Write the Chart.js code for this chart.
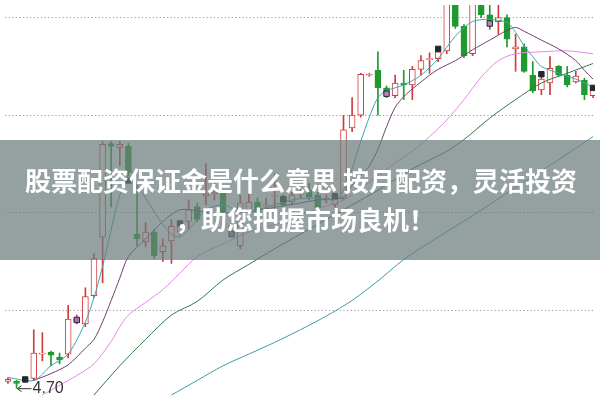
<!DOCTYPE html>
<html><head><meta charset="utf-8">
<script src="https://cdn.jsdelivr.net/npm/chart.js@4.4.1/dist/chart.umd.min.js"></script>
<style>html,body{margin:0;padding:0;background:#fff;overflow:hidden}canvas{display:block}</style>
</head><body>
<canvas id="c" width="600" height="401"></canvas>
<script>
// ---- data (prices) ----
const openP  = [4.77,4.77,4.77,4.80,5.05,5.07,5.02,5.05,5.38,5.36,5.65,6.25,7.21,7.17,7.18,6.28,6.20,6.30,6.10,6.21,6.30,6.41,6.56,6.67,6.69,6.70,6.31,6.16,6.53,6.61,6.57,6.67,6.65,6.61,6.69,6.73,6.68,6.63,6.58,6.65,7.37,7.50,7.91,7.96,7.78,7.70,7.83,7.81,7.97,8.07,8.08,8.16,8.83,8.41,8.13,8.73,8.53,8.46,8.50,8.18,8.20,7.91,7.76,7.83,8.00,7.91,7.84,7.86,7.70];
const closeP = [4.79,4.75,4.80,5.06,5.06,5.04,4.99,5.41,5.42,5.64,6.03,7.20,7.18,7.20,6.91,6.23,6.30,6.06,6.16,6.36,6.37,6.53,6.43,6.69,6.71,6.51,6.37,6.60,6.61,6.51,6.58,6.68,6.58,6.68,6.70,6.66,6.55,6.65,6.65,7.35,7.50,7.92,7.92,7.78,7.73,7.83,7.81,7.97,8.06,8.08,8.15,8.93,8.41,8.11,8.78,8.53,8.47,8.50,8.28,8.20,7.95,7.75,7.87,7.98,7.91,7.81,7.90,7.71,7.77];
const highP  = [4.81,4.78,4.81,5.30,5.27,5.08,5.06,5.55,5.45,5.73,6.08,7.23,7.23,7.23,7.21,6.78,6.40,6.33,6.23,6.43,6.41,6.63,6.60,7.00,6.83,6.73,6.43,6.68,6.73,6.65,6.65,6.90,6.68,6.71,6.75,6.80,6.71,6.68,6.67,7.50,7.68,7.93,7.93,8.15,7.80,7.91,7.96,8.00,8.11,8.14,8.18,9.00,8.95,8.43,8.85,8.80,8.63,8.63,8.53,8.33,8.23,8.05,7.90,8.10,8.01,8.00,7.95,7.88,7.79];
const lowP   = [4.75,4.70,4.76,4.78,4.98,4.93,4.95,5.01,5.36,5.33,5.63,5.78,6.56,6.98,6.88,6.16,6.15,6.03,6.00,5.98,6.27,6.33,6.41,6.58,6.63,6.48,6.27,6.13,6.48,6.41,6.51,6.56,6.55,6.58,6.65,6.63,6.51,6.60,6.56,6.63,7.33,7.48,7.90,7.50,7.68,7.68,7.66,7.66,7.91,7.93,8.05,8.13,8.39,8.09,8.11,8.50,8.38,8.33,8.20,7.95,7.94,7.73,7.71,7.71,7.90,7.79,7.83,7.66,7.68];

const ma5Idx = [0,3,5,7,9,10,11,12,13,14,15,16,17,18,19,20,21,22,23,25,27,29,31,33,35,37,38,39,40,41,42,43,44,46,48,50,52,54,56,58,59,60,61,62,64,66,68];
const ma5Val = [4.81,4.78,4.93,5.05,5.38,5.63,5.95,6.33,6.68,6.88,6.78,6.65,6.51,6.38,6.28,6.25,6.33,6.43,6.53,6.58,6.51,6.53,6.58,6.63,6.65,6.64,6.63,6.73,6.95,7.23,7.48,7.68,7.75,7.81,7.91,8.08,8.31,8.46,8.48,8.45,8.35,8.21,8.10,8.00,7.93,7.87,7.79];

const ma10Idx = [3,5,7,9,10,11,12,13,14,16,18,20,22,24,26,28,30,32,34,36,38,39,40,41,42,43,44,45,46,47,48,49,50,52,54,56,58,59,60,62,64,66,67,68];
const ma10Val = [4.78,4.85,4.94,5.11,5.20,5.38,5.60,5.83,6.05,6.23,6.41,6.53,6.52,6.49,6.50,6.51,6.54,6.57,6.60,6.63,6.64,6.66,6.78,6.88,6.98,7.15,7.38,7.58,7.69,7.77,7.84,7.91,7.97,8.06,8.17,8.27,8.37,8.40,8.36,8.27,8.18,8.06,7.96,7.87];

const ma20Idx = [4,6,8,10,12,13,14,16,18,20,22,25,28,31,34,37,39,41,43,45,47,49,51,53,55,57,59,62,65,68];
const ma20Val = [4.63,4.73,4.83,4.95,5.18,5.33,5.45,5.58,5.71,5.88,6.05,6.18,6.30,6.38,6.48,6.57,6.63,6.75,6.88,7.01,7.13,7.28,7.45,7.66,7.89,8.06,8.13,8.15,8.16,8.13];

const ma60Idx = [10,13,16,19,22,25,28,31,35,39,43,47,51,53,56,59,62,65,68];
const ma60Val = [4.63,4.93,5.20,5.45,5.59,5.81,5.97,6.13,6.33,6.53,6.73,6.95,7.13,7.25,7.47,7.66,7.83,7.93,8.03];

const ma120Idx = [19,22,25,28,31,34,37,40,43,46,50,54,58,62,66,68];
const ma120Val = [4.63,4.78,4.93,5.05,5.17,5.30,5.44,5.60,5.80,6.02,6.25,6.47,6.70,6.93,7.16,7.28];

const markerIdx = [2,8,14,20,26,32,38,44,50,56,62,68];
const markerVal = [4.79,5.40,6.83,6.39,6.28,6.64,6.67,7.72,8.18,8.44,7.92,7.78];
const markerColors = ['#1d2b2e','#b070b0','#1d2b2e','#1d2b2e','#9a70a8','#1d2b2e','#1d2b2e','#c080c8','#1d2b2e','#c080c8','#1d2b2e','#1d2b2e'];

const gridVals = [5.5, 6.5, 7.5, 8.5];
const minLabel = '4.70';
const minValue = 4.70;
const bandLines = ['股票配资保证金是什么意思 按月配资，灵活投资', '，助您把握市场良机！'];

// ---- styles ----
const RED = '#d23a3a', GREEN = '#1f9a2e';
const isUp = i => closeP[i] >= openP[i];
const idx = openP.map((_, i) => i);

const overlay = {
  id: 'overlay',
  afterDraw(chart) {
    const ctx = chart.ctx, ys = chart.scales.y, xs = chart.scales.x;
    ctx.save();
    // min price label with arrow
    const yMin = ys.getPixelForValue(minValue);
    const xMin = xs.getPixelForValue(1);
    ctx.strokeStyle = '#333'; ctx.fillStyle = '#333'; ctx.lineWidth = 1;
    ctx.beginPath(); ctx.moveTo(xMin + 1, yMin + 0.5); ctx.lineTo(xMin + 15, yMin + 0.5); ctx.stroke();
    ctx.beginPath(); ctx.moveTo(xMin + 1, yMin + 0.5); ctx.lineTo(xMin + 5, yMin - 2.5); ctx.moveTo(xMin + 1, yMin + 0.5); ctx.lineTo(xMin + 5, yMin + 3.5); ctx.stroke();
    ctx.font = '16px "Liberation Sans", Arial, sans-serif';
    ctx.textAlign = 'left'; ctx.textBaseline = 'middle';
    ctx.fillText(minLabel, xMin + 16, yMin);
    // banner
    ctx.fillStyle = 'rgba(108,124,124,0.72)';
    ctx.fillRect(0, 140, chart.width, 120);
    ctx.fillStyle = '#ffffff';
    ctx.font = 'bold 26px "Noto Sans CJK SC", sans-serif';
    ctx.textAlign = 'center';
    ctx.fillText(bandLines[0], 301, 181);
    ctx.fillText(bandLines[1], 305, 220);
    ctx.restore();
  }
};

const lineDs = (ix, vals, color) => ({
  type: 'line', order: 1,
  data: ix.map((k, j) => ({x: k, y: vals[j]})),
  borderColor: color, borderWidth: 1, pointRadius: 0, tension: 0.3, fill: false
});

new Chart(document.getElementById('c'), {
  type: 'bar',
  data: {
    datasets: [
      {
        type: 'line', order: 0, showLine: false,
        data: markerIdx.map((k, j) => ({x: k, y: markerVal[j]})),
        pointStyle: 'rect', pointRadius: 3.8,
        pointBackgroundColor: markerColors, pointBorderColor: '#1d2b2e', pointBorderWidth: 1
      },
      lineDs(ma5Idx, ma5Val, '#3aa6b0'),
      lineDs(ma10Idx, ma10Val, '#6e3f6e'),
      lineDs(ma20Idx, ma20Val, '#e28ae8'),
      lineDs(ma60Idx, ma60Val, '#2f7a48'),
      lineDs(ma120Idx, ma120Val, '#3b9ca2'),
      {
        order: 2, grouped: false, barThickness: 6, borderSkipped: false, borderWidth: 1,
        data: idx.map(i => ({x: i, y: [openP[i], closeP[i]]})),
        backgroundColor: idx.map(i => isUp(i) ? '#ffffff' : GREEN),
        borderColor: idx.map(i => isUp(i) ? RED : GREEN)
      },
      {
        order: 3, grouped: false, barThickness: 1, borderWidth: 0,
        data: idx.map(i => ({x: i, y: [lowP[i], highP[i]]})),
        backgroundColor: idx.map(i => isUp(i) ? RED : GREEN)
      }
    ]
  },
  options: {
    responsive: false, animation: false, devicePixelRatio: 1,
    layout: {padding: 0},
    plugins: {legend: {display: false}, tooltip: {enabled: false}},
    scales: {
      x: {type: 'linear', display: false, min: -0.343, max: 68.23, offset: false},
      y: {
        min: 4.62, max: 8.63,
        afterBuildTicks: s => { s.ticks = gridVals.map(v => ({value: v})); },
        ticks: {display: false},
        grid: {color: '#9a9a9a', lineWidth: 1, drawTicks: false},
        border: {display: false, dash: [1.2, 2.4]}
      }
    }
  },
  plugins: [overlay]
});
</script>
</body></html>
